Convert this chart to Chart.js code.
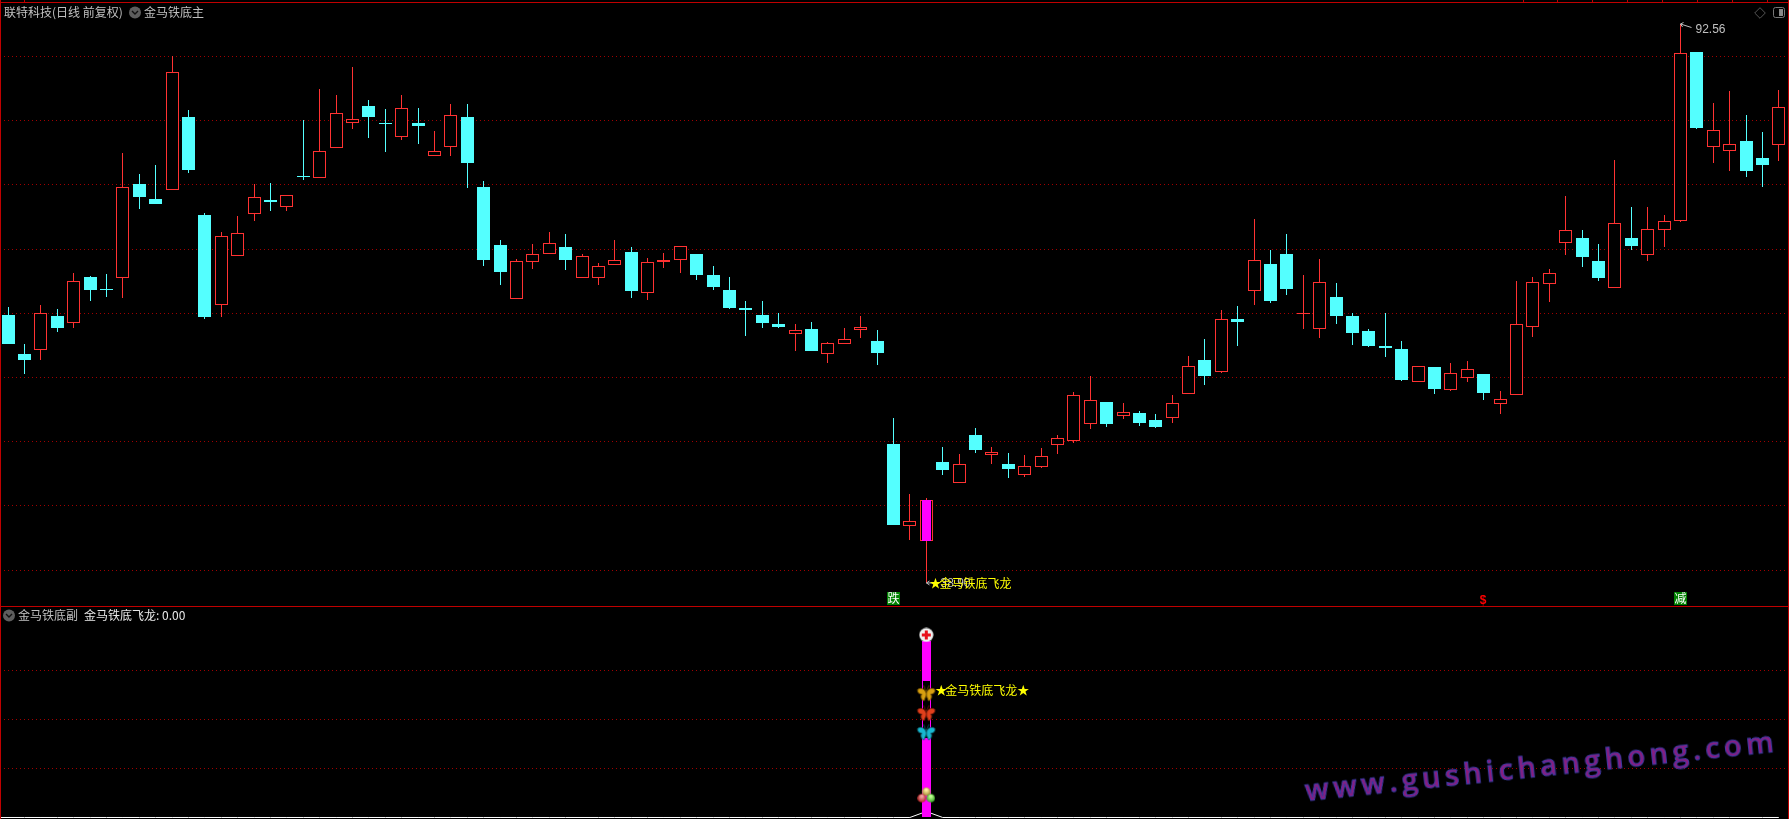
<!DOCTYPE html>
<html>
<head>
<meta charset="utf-8">
<title>金马铁底</title>
<script src="https://cdn.jsdelivr.net/npm/chart.js@4/dist/chart.umd.min.js"></script>
<style>
html, body { margin: 0; padding: 0; background: #000; overflow: hidden; width: 1789px; height: 819px; }
canvas { position: absolute; left: 0; display: block; }
#mainChart { top: 0; }
#subChart { top: 606px; }
.line { position: absolute; background: #c00000; }
.txt { position: absolute; font: 12px "Noto Sans CJK SC", sans-serif; line-height: 14px; color: #c0c0c0; white-space: pre; }
svg { position: absolute; }
#mark { position: absolute; left: 1305px; top: 774px; font: 600 29px "Open Sans", sans-serif; letter-spacing: 4.5px; line-height: 32px;
    color: #8a1d80; -webkit-text-stroke: 1px #3c3ca8; transform: rotate(-6deg); transform-origin: left center; white-space: pre; }
</style>
</head>
<body>
<canvas id="mainChart" width="1789" height="606"></canvas>
<canvas id="subChart" width="1789" height="213"></canvas>

<div class="line" style="left:0;top:2px;width:1789px;height:1px"></div>
<div class="line" style="left:0;top:0;width:1px;height:819px"></div>
<div class="line" style="left:1788px;top:0;width:1px;height:819px"></div>
<div class="line" style="left:0;top:606px;width:1789px;height:1px"></div>
<div class="line" style="left:1px;top:817px;width:8px;height:1px;background:#fff"></div>
<div class="txt" style="left:4px;top:5px">联特科技(日线 前复权)</div>
<div class="txt" style="left:144px;top:5px">金马铁底主</div>
<div class="txt" style="left:18px;top:608px">金马铁底副</div>
<div class="txt" style="left:84px;top:608px;color:#e8e8e8">金马铁底飞龙: 0.00</div>
<svg style="left:128px;top:6px" width="14" height="13"><circle cx="7" cy="6.5" r="6" fill="#5e5e5e"/><path d="M4 5l3 3 3-3" stroke="#111" stroke-width="1.4" fill="none"/></svg>
<svg style="left:2px;top:609px" width="14" height="13"><circle cx="7" cy="6.5" r="6" fill="#5e5e5e"/><path d="M4 5l3 3 3-3" stroke="#111" stroke-width="1.4" fill="none"/></svg>
<svg style="left:1754px;top:7px" width="12" height="12"><path d="M6 .7L11.3 6 6 11.3.7 6z" stroke="#555" fill="none"/></svg>
<svg style="left:1773px;top:7px" width="12" height="12"><rect x=".5" y=".5" width="11" height="10" rx="2" stroke="#777" fill="none"/><rect x="6" y="2" width="4" height="7" fill="#888"/></svg>
<div id="mark">www.gushichanghong.com</div>

<script>
// 日K数据,从图上读出来的
const opens = [64.62,60.88,61.29,64.53,63.88,68.27,67.12,68.20,77.20,75.76,76.65,83.63,74.22,65.61,70.32,74.35,75.66,75.02,78.00,77.80,
    80.68,83.08,84.69,83.06,81.74,83.06,79.92,80.78,83.63,76.91,71.34,66.19,69.74,70.51,71.15,68.20,68.20,69.45,70.67,66.77,
    69.74,69.93,70.48,68.46,67.02,65.30,64.62,63.76,62.83,63.28,60.91,61.87,63.21,62.13,52.24,44.40,42.96,50.51,48.52,53.10,
    51.18,50.32,49.29,50.06,52.17,52.56,54.19,56.27,54.96,55.22,54.54,54.77,57.07,60.30,59.18,64.24,66.96,69.52,70.48,64.72,
    63.31,66.35,64.53,63.09,61.65,61.36,58.22,59.63,57.45,58.60,58.96,56.11,56.97,63.50,67.63,71.56,72.02,69.81,67.25,72.02,
    70.41,72.81,73.68,89.87,80.78,80.40,81.33,79.70,80.97];
const closes = [61.84,60.30,64.79,63.38,67.86,67.02,67.02,76.88,75.98,75.28,87.92,78.54,64.43,72.18,72.47,75.92,75.47,76.12,77.87,80.34,
    83.99,83.41,83.63,82.96,84.47,82.77,80.34,83.80,79.22,69.90,68.75,69.78,70.45,71.51,69.90,70.26,69.30,69.88,66.93,69.68,
    69.90,71.22,68.46,67.31,65.30,65.10,63.86,63.47,63.16,61.17,61.91,62.29,63.44,60.98,44.46,44.82,46.84,49.74,50.29,51.66,
    51.44,49.84,50.10,51.06,52.79,56.92,56.44,54.16,55.28,54.26,53.87,56.15,59.70,58.77,64.21,63.95,69.88,65.97,67.12,64.82,
    67.76,64.53,62.90,61.65,61.46,58.38,59.70,57.52,59.03,59.41,57.14,56.53,63.73,67.76,68.63,72.76,70.19,68.18,73.43,71.25,
    72.85,73.62,89.75,82.58,82.36,81.01,78.45,79.02,84.56];
const highs = [65.39,61.84,65.58,65.20,68.66,68.37,68.56,80.18,78.16,79.02,89.49,84.30,74.42,72.59,74.13,77.20,77.30,76.12,83.34,86.32,
    85.74,88.43,85.26,84.40,85.74,84.50,82.29,84.88,84.88,77.49,71.82,70.00,71.44,72.59,72.40,70.48,69.62,71.82,71.15,70.10,
    70.58,71.22,70.48,69.33,68.27,65.97,65.97,64.82,63.76,63.95,62.03,63.38,64.53,63.18,54.74,47.44,47.06,51.95,51.28,53.78,
    51.95,51.38,51.18,51.86,53.10,57.23,58.77,56.27,56.18,55.41,55.12,56.94,60.69,62.32,65.10,65.49,73.84,70.86,72.40,68.46,
    70.00,67.70,64.82,63.28,64.82,62.13,59.70,59.63,60.02,60.21,58.96,57.33,67.89,68.27,69.04,76.05,72.78,71.44,79.50,74.99,
    74.99,74.22,92.56,89.87,84.98,86.13,83.82,82.19,86.22];
const lows = [61.84,58.96,60.30,62.99,63.38,65.97,66.35,66.26,74.80,75.28,76.65,78.26,64.24,64.43,70.32,73.65,74.61,74.61,77.58,77.80,
    80.68,82.48,81.62,80.27,81.42,81.04,79.92,79.89,76.82,69.33,67.50,66.19,69.04,70.51,68.94,68.20,67.50,69.45,66.26,66.06,
    69.14,68.66,67.98,67.02,65.20,62.61,63.38,63.38,61.17,61.17,60.02,61.87,62.42,59.82,44.46,43.02,38.90,49.26,48.52,51.38,
    50.32,48.98,49.07,49.94,51.28,52.34,53.68,53.87,54.64,53.97,53.78,54.26,57.07,57.90,59.06,61.65,65.58,65.78,66.54,63.28,
    62.42,63.76,61.74,61.55,60.59,58.29,58.22,57.04,57.33,58.19,56.46,55.12,56.97,62.51,65.87,70.38,69.23,67.89,67.25,70.86,
    69.81,71.15,73.55,82.48,79.22,78.45,77.87,76.91,79.41];

const gridPrices = [89.44, 83.30, 77.15, 70.91, 64.77, 58.62, 52.48, 46.34, 40.10];
const subGrid = [83.4, 55.6, 27.9];
const topTicks = [24, 1523, 1557, 1592, 1627, 1662, 1697, 1732, 1767];

const signalIndex = 56;     // 金马铁底飞龙 这一天
const highIndex = 102;
const highText = '92.56';
const lowText = '38.90';
const dieIndex = 54;        // 跌
const dollarIndex = 90;     // $
const jianIndex = 102;      // 减

const signalRange = [0, 100];
const breakRange = [45.0, 77.3];
const crossLevel = 103.4;
const butterflyLevels = [70.5, 59.2, 48.4];
const ballLevel = 12.7;
const lineBump = 3.4;

const RED = '#ff3232';
const CYAN = '#54ffff';
const MAGENTA = '#ff00ff';
const GRID = '#a00000';

const labels = opens.map((v, i) => i);

function solo(index, value) {
    return labels.map((v, i) => i === index ? value : null);
}

topTicks.forEach(x => {
    const d = document.createElement('div');
    d.className = 'line';
    d.style.cssText = 'left:' + x + 'px;top:0;width:1px;height:2px';
    document.body.appendChild(d);
});

// 柱子对齐到整像素,不然边缘发虚
const snapBars = {
    id: 'snapBars',
    afterDatasetsUpdate(chart) {
        chart.data.datasets.forEach((ds, d) => {
            const meta = chart.getDatasetMeta(d);
            if (meta.type !== 'bar') return;
            meta.data.forEach(el => {
                el.x = Math.floor(el.x) + 0.5;
                el.y = Math.round(el.y);
                el.base = Math.round(el.base);
            });
        });
    }
};

const mainLabels = {
    id: 'mainLabels',
    afterDraw(chart) {
        const ctx = chart.ctx;
        const xs = chart.scales.x, ys = chart.scales.y;
        const bottom = chart.chartArea.bottom;
        ctx.save();
        ctx.textBaseline = 'middle';
        ctx.textAlign = 'left';

        // 最高价
        const hx = Math.floor(xs.getPixelForValue(highIndex)) + 0.5;
        const hy = ys.getPixelForValue(highs[highIndex]);
        ctx.strokeStyle = '#c0c0c0';
        ctx.lineWidth = 1;
        ctx.beginPath();
        ctx.moveTo(hx + 11, hy + 3.5);
        ctx.lineTo(hx, hy);
        ctx.moveTo(hx, hy);
        ctx.lineTo(hx + 3, hy - 1.5);
        ctx.moveTo(hx, hy);
        ctx.lineTo(hx + 2, hy + 3);
        ctx.stroke();
        ctx.fillStyle = '#c0c0c0';
        ctx.font = '12px "Liberation Sans"';
        ctx.fillText(highText, hx + 15, hy + 6);

        // 最低价
        const lx = Math.floor(xs.getPixelForValue(signalIndex)) + 0.5;
        const ly = ys.getPixelForValue(lows[signalIndex]);
        ctx.beginPath();
        ctx.moveTo(lx + 11, ly);
        ctx.lineTo(lx, ly);
        ctx.moveTo(lx, ly);
        ctx.lineTo(lx + 3, ly - 2);
        ctx.moveTo(lx, ly);
        ctx.lineTo(lx + 3, ly + 2);
        ctx.stroke();
        ctx.fillText(lowText, lx + 14, ly + 1);

        ctx.fillStyle = '#ffff00';
        ctx.font = '12px "Noto Sans CJK SC"';
        ctx.fillText('★', lx + 3, ly);
        ctx.fillText('金马铁底飞龙', lx + 13, ly);

        // 底部标记
        [[dieIndex, '跌'], [jianIndex, '减']].forEach(item => {
            const px = Math.floor(xs.getPixelForValue(item[0]));
            ctx.fillStyle = '#008000';
            ctx.fillRect(px - 6, bottom - 14, 13, 13);
            ctx.fillStyle = '#ffffff';
            ctx.textAlign = 'center';
            ctx.fillText(item[1], px + 0.5, bottom - 7.5);
        });
        ctx.fillStyle = '#ff0000';
        ctx.font = 'bold 12px "Liberation Sans"';
        ctx.fillText('$', xs.getPixelForValue(dollarIndex) - 0.5, bottom - 5.5);
        ctx.restore();
    }
};

const subLabels = {
    id: 'subLabels',
    afterDraw(chart) {
        const ctx = chart.ctx;
        const px = chart.scales.x.getPixelForValue(signalIndex);
        const py = chart.scales.y.getPixelForValue(butterflyLevels[0]) - 3;
        ctx.save();
        ctx.textBaseline = 'middle';
        ctx.fillStyle = '#ffff00';
        ctx.font = '12px "Noto Sans CJK SC"';
        ctx.fillText('★', px + 9, py);
        ctx.fillText('金马铁底飞龙', px + 19, py);
        ctx.fillText('★', px + 91, py);
        ctx.restore();
    }
};

function makeCross() {
    const c = document.createElement('canvas');
    c.width = c.height = 15;
    const g = c.getContext('2d');
    g.fillStyle = '#f0f0f0';
    g.beginPath();
    g.arc(7.5, 7.5, 7, 0, Math.PI * 2);
    g.fill();
    g.fillStyle = '#e8101c';
    g.fillRect(3, 6, 9, 3);
    g.fillRect(6, 3, 3, 9);
    return c;
}

function makeButterfly(color, dark) {
    const c = document.createElement('canvas');
    c.width = 20;
    c.height = 18;
    const g = c.getContext('2d');
    [1, -1].forEach(side => {
        g.save();
        g.translate(10, 9);
        g.scale(side * 1.1, 1.1);
        g.fillStyle = color;
        g.strokeStyle = dark;
        g.lineWidth = 0.8;
        g.beginPath();
        g.moveTo(0, 0);
        g.bezierCurveTo(2, -5, 6, -5, 8, -3);
        g.bezierCurveTo(8, 0, 6, 1, 4, 1);
        g.bezierCurveTo(6, 3, 4, 7, 2, 7);
        g.lineTo(0, 2);
        g.closePath();
        g.fill();
        g.stroke();
        g.beginPath();
        g.moveTo(0, -1);
        g.lineTo(2.5, -7);
        g.stroke();
        g.restore();
    });
    return c;
}

// 三个小球拼成一个图标
function makeBalls() {
    const c = document.createElement('canvas');
    c.width = 18;
    c.height = 17;
    const g = c.getContext('2d');
    [[9, 5, '#fff0a0', '#a08030'], [4.5, 11.5, '#f0a0a0', '#b02020'], [13.5, 11.5, '#c0ff90', '#30a020']].forEach(b => {
        const grad = g.createRadialGradient(b[0], b[1] - 2, 1, b[0], b[1], 4.5);
        grad.addColorStop(0, b[2]);
        grad.addColorStop(1, b[3]);
        g.fillStyle = grad;
        g.beginPath();
        g.arc(b[0], b[1], 4.3, 0, Math.PI * 2);
        g.fill();
    });
    return c;
}

function iconDataset(index, value, image) {
    return { type: 'line', data: solo(index, value), showLine: false, pointStyle: image, pointRadius: 8, order: 0 };
}

new Chart(document.getElementById('mainChart'), {
    type: 'bar',
    data: {
        labels: labels,
        datasets: [
            {
                label: '影线',
                data: labels.map(i => [lows[i], highs[i]]),
                barThickness: 1,
                grouped: false,
                inflateAmount: 0,
                backgroundColor: labels.map(i => closes[i] >= opens[i] ? RED : CYAN),
                borderWidth: 0,
                order: 3
            },
            {
                label: '实体',
                data: labels.map(i => [opens[i], closes[i]]),
                barThickness: 13,
                grouped: false,
                inflateAmount: 0,
                backgroundColor: labels.map(i => closes[i] >= opens[i] ? '#000000' : CYAN),
                borderColor: labels.map(i => closes[i] >= opens[i] ? RED : CYAN),
                borderWidth: 1,
                borderSkipped: false,
                order: 2
            },
            {
                label: '信号',
                data: solo(signalIndex, [opens[signalIndex], closes[signalIndex]]),
                barThickness: 9,
                grouped: false,
                inflateAmount: 0,
                backgroundColor: MAGENTA,
                borderWidth: 0,
                order: 1
            }
        ]
    },
    options: {
        responsive: false,
        animation: false,
        layout: { autoPadding: false, padding: { left: 0, right: 2, top: 0, bottom: 0 } },
        plugins: { legend: { display: false }, tooltip: { enabled: false } },
        scales: {
            x: { display: false },
            y: {
                min: 36.688,
                max: 94.864,
                afterBuildTicks: axis => { axis.ticks = gridPrices.map(v => ({ value: v })); },
                ticks: { display: false },
                grid: { color: GRID, drawTicks: false },
                border: { display: false, dash: [1, 3] }
            }
        }
    },
    plugins: [snapBars, mainLabels]
});

new Chart(document.getElementById('subChart'), {
    type: 'bar',
    data: {
        labels: labels,
        datasets: [
            { type: 'line', data: labels.map(i => i === signalIndex ? lineBump : 0), borderColor: '#ffffff', borderWidth: 1, pointRadius: 0, tension: 0, clip: false, order: 4 },
            { data: solo(signalIndex, signalRange), barThickness: 9, inflateAmount: 0, backgroundColor: MAGENTA, borderWidth: 0, grouped: false, order: 3 },
            { data: solo(signalIndex, breakRange), barThickness: 7, inflateAmount: 0, backgroundColor: '#000000', borderWidth: 0, grouped: false, order: 2 },
            iconDataset(signalIndex, crossLevel, makeCross()),
            iconDataset(signalIndex, butterflyLevels[0], makeButterfly('#d8a010', '#6a4a00')),
            iconDataset(signalIndex, butterflyLevels[1], makeButterfly('#e0401c', '#701808')),
            iconDataset(signalIndex, butterflyLevels[2], makeButterfly('#18b8d0', '#0a5a68')),
            iconDataset(signalIndex, ballLevel, makeBalls())
        ]
    },
    options: {
        responsive: false,
        animation: false,
        layout: { autoPadding: false, padding: { left: 0, right: 2, top: 0, bottom: 0 } },
        plugins: { legend: { display: false }, tooltip: { enabled: false } },
        scales: {
            x: { display: false },
            y: {
                min: -0.85,
                max: 119.83,
                afterBuildTicks: axis => { axis.ticks = subGrid.map(v => ({ value: v })); },
                ticks: { display: false },
                grid: { color: GRID, drawTicks: false },
                border: { display: false, dash: [1, 3] }
            }
        }
    },
    plugins: [snapBars, subLabels]
});
</script>
</body>
</html>
